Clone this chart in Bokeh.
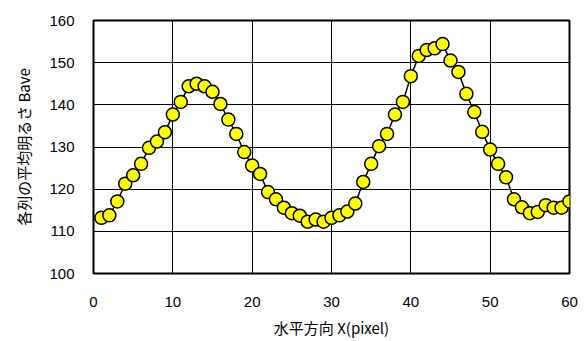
from bokeh.plotting import figure
from bokeh.models import FixedTicker, Range1d
from bokeh.embed import file_html
from bokeh.resources import INLINE

x_pixel = list(range(1, 61))
b_ave = [113.2, 113.8, 117.1, 121.3, 123.3, 126.0, 129.8, 131.3, 133.5, 137.7,
         140.7, 144.4, 145.0, 144.4, 143.1, 140.2, 136.5, 133.1, 128.8, 125.6,
         123.6, 119.3, 117.6, 115.6, 114.3, 113.7, 112.3, 112.8, 112.3, 113.2,
         113.8, 114.7, 116.6, 121.7, 126.0, 130.2, 133.1, 137.7, 140.7, 146.8,
         151.6, 153.0, 153.4, 154.4, 150.5, 147.8, 142.6, 138.3, 133.6, 129.4,
         126.0, 122.8, 117.6, 115.7, 114.3, 114.6, 116.2, 115.6, 115.6, 117.1]
x_ticks = [0, 10, 20, 30, 40, 50, 60]
y_ticks = [100, 110, 120, 130, 140, 150, 160]

p = figure(width=578, height=340, output_backend="svg", toolbar_location=None,
           x_range=Range1d(0, 60), y_range=Range1d(100, 160),
           min_border_left=93, min_border_right=9, min_border_top=20, min_border_bottom=67)

p.line(x_pixel, b_ave, line_color="black", line_width=1.5)
p.scatter(x_pixel, b_ave, size=13, fill_color="#FFFF00", line_color="black", line_width=1.5)

p.outline_line_color = "black"
p.outline_line_width = 2
p.background_fill_color = "white"
p.border_fill_color = "white"

for g in (p.xgrid[0], p.ygrid[0]):
    g.grid_line_color = "black"
    g.grid_line_width = 1
p.xgrid[0].ticker = FixedTicker(ticks=x_ticks)
p.ygrid[0].ticker = FixedTicker(ticks=y_ticks)

p.xaxis.ticker = FixedTicker(ticks=x_ticks)
p.yaxis.ticker = FixedTicker(ticks=y_ticks)
for ax in (p.xaxis[0], p.yaxis[0]):
    ax.axis_line_color = None
    ax.major_tick_line_color = None
    ax.minor_tick_line_color = None
    ax.major_tick_out = 0
    ax.major_tick_in = 0
    ax.major_label_text_font = "Liberation Sans"
    ax.major_label_text_font_size = "15px"
    ax.major_label_text_color = "black"
    ax.axis_label_text_font = "Noto Sans CJK JP"
    ax.axis_label_text_font_size = "15px"
    ax.axis_label_text_font_style = "normal"
    ax.axis_label_text_color = "black"

p.xaxis.axis_label = "水平方向 X(pixel)"
p.yaxis.axis_label = "各列の平均明るさ Bave"
p.xaxis.major_label_standoff = 23
p.xaxis.axis_label_standoff = 7
p.yaxis.major_label_standoff = 19
p.yaxis.axis_label_standoff = 12

open("out.html", "w").write(file_html(p, INLINE))
